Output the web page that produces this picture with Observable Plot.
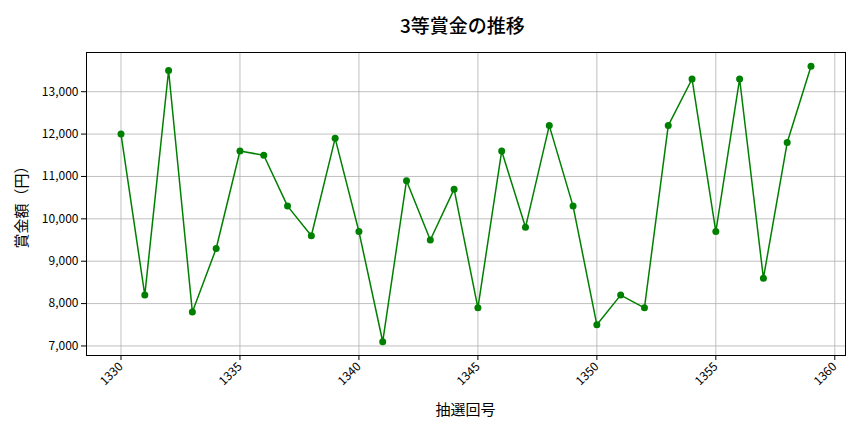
<!DOCTYPE html>
<html>
<head>
<meta charset="utf-8">
<script src="https://cdn.jsdelivr.net/npm/d3@7"></script>
<script src="https://cdn.jsdelivr.net/npm/@observablehq/plot@0.6"></script>
<style>
  html, body { margin: 0; padding: 0; background: #fff; }
  body { width: 864px; height: 432px; overflow: hidden; font-family: "Noto Sans CJK JP", "Noto Sans", sans-serif; }
  #title { height: 44px; line-height: 50px; font-size: 19px; font-weight: 500; color: #000; text-align: left; padding-left: 400px; box-sizing: border-box; }
  svg { display: block; }
</style>
</head>
<body>
<div id="title">3等賞金の推移</div>
<div id="chart"></div>
<script>
const draws = [1330,1331,1332,1333,1334,1335,1336,1337,1338,1339,1340,1341,1342,1343,1344,1345,1346,1347,1348,1349,1350,1351,1352,1353,1354,1355,1356,1357,1358,1359];
const prizes = [12000,8200,13500,7800,9300,11600,11500,10300,9600,11900,9700,7100,10900,9500,10700,7900,11600,9800,12200,10300,7500,8200,7900,12200,13300,9700,13300,8600,11800,13600];
const xTicks = [1330,1335,1340,1345,1350,1355,1360];
const yTicks = [7000,8000,9000,10000,11000,12000,13000];
const xLabel = "抽選回号";
const yLabel = "賞金額（円）";

const data = draws.map((d, i) => ({draw: d, prize: prizes[i]}));
const fmt = d3.format(",");

const chart = Plot.plot({
  width: 864,
  height: 388,
  marginLeft: 86,
  marginRight: 19,
  marginTop: 8,
  marginBottom: 77,
  style: {fontFamily: "'Noto Sans CJK JP', 'Noto Sans', sans-serif", fontSize: "12px", color: "#000", background: "#fff"},
  x: {domain: [1328.55, 1360.45]},
  y: {domain: [6775, 13925]},
  marks: [
    Plot.gridX(xTicks, {stroke: "#b0b0b0", strokeOpacity: 1, strokeWidth: 0.8}),
    Plot.gridY(yTicks, {stroke: "#b0b0b0", strokeOpacity: 1, strokeWidth: 0.8}),
    Plot.axisX(xTicks, {tickSize: 5, tickRotate: -45, tickFormat: d => String(d), label: null, tickPadding: 4, fontSize: 12}),
    Plot.axisY(yTicks, {tickSize: 5, tickFormat: fmt, label: null, tickPadding: 3, fontSize: 12}),
    Plot.line(data, {x: "draw", y: "prize", stroke: "green", strokeWidth: 1.5}),
    Plot.dot(data, {x: "draw", y: "prize", fill: "green", r: 3.5}),
    Plot.frame({stroke: "#000", strokeWidth: 1})
  ]
});
document.getElementById("chart").appendChild(chart);

// axis titles as text inside the svg
const svg = d3.select(chart);
svg.append("text")
  .attr("x", (86 + 845) / 2).attr("y", 388 - 17)
  .attr("text-anchor", "middle")
  .style("font-size", "15px")
  .text(xLabel);
svg.append("text")
  .attr("transform", `translate(27, ${8 + (388 - 8 - 77) / 2}) rotate(-90)`)
  .attr("text-anchor", "middle")
  .style("font-size", "15px")
  .text(yLabel);
</script>
</body>
</html>
